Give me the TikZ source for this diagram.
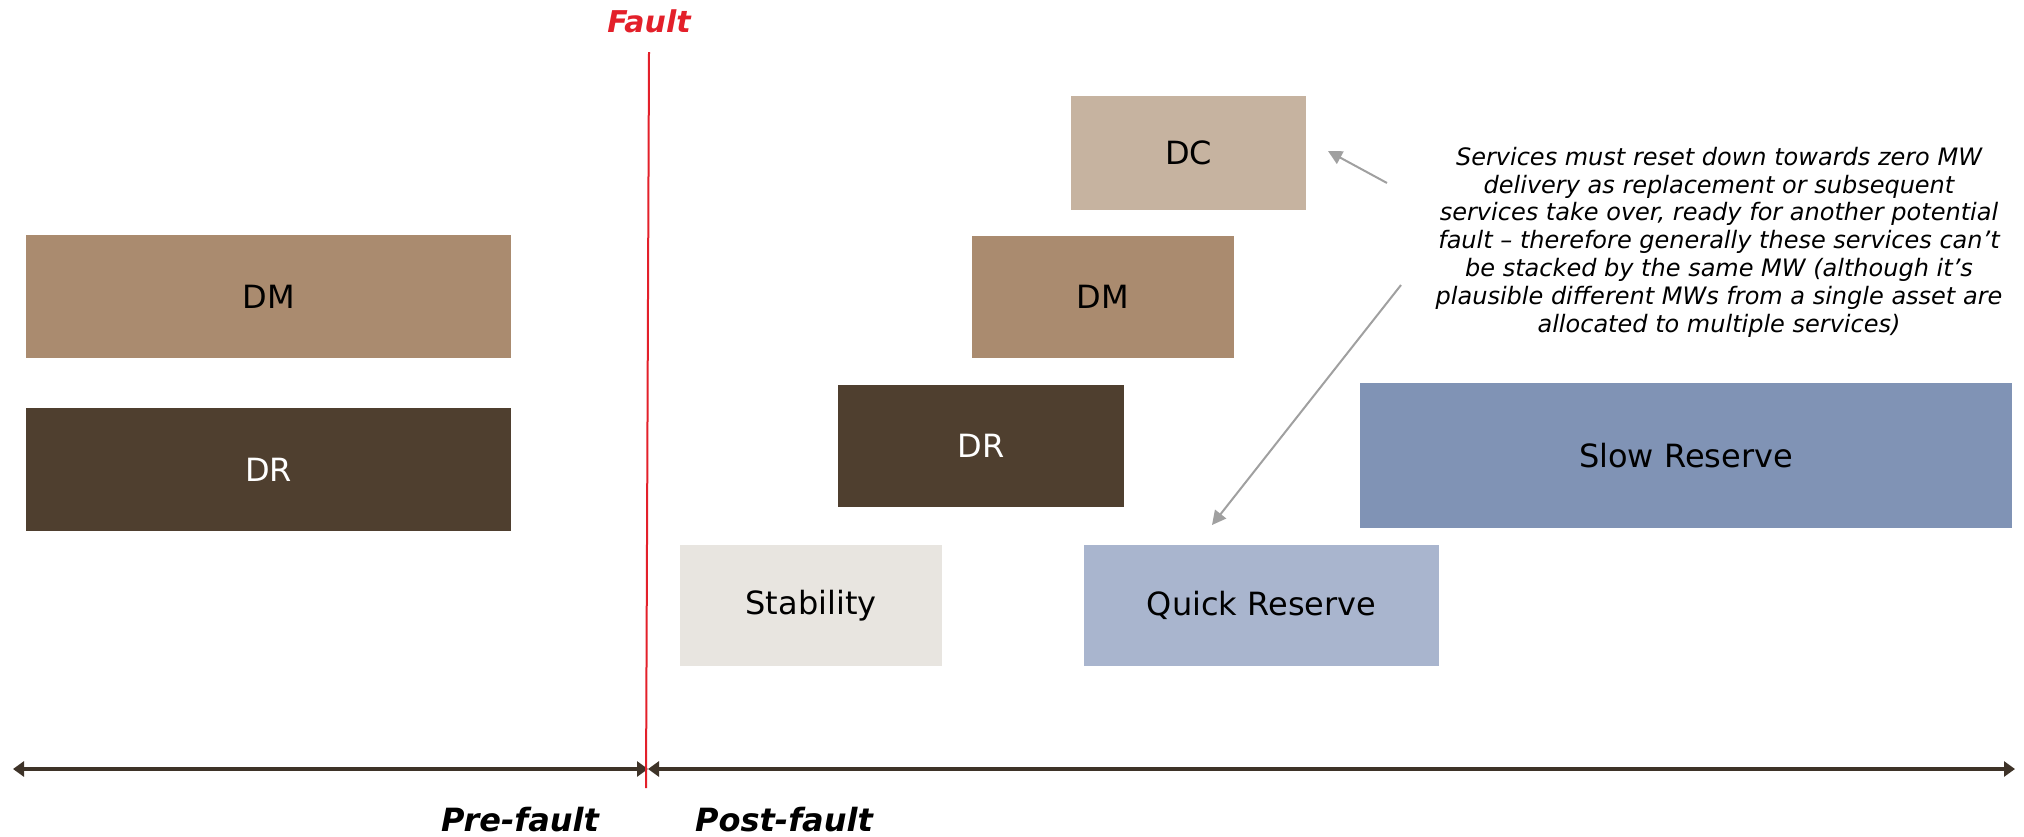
\documentclass[tikz,border=0pt]{standalone}
\usepackage{fontspec}
\setmainfont{DejaVu Sans}
\usetikzlibrary{arrows.meta}
\definecolor{dmbrown}{HTML}{AA8B6F}
\definecolor{drbrown}{HTML}{4F3F2F}
\definecolor{dctan}{HTML}{C6B3A0}
\definecolor{stabgrey}{HTML}{E8E5E0}
\definecolor{quickblue}{HTML}{A9B5CE}
\definecolor{slowblue}{HTML}{8093B5}
\definecolor{axisbrown}{HTML}{3E3328}
\definecolor{pointergrey}{HTML}{A0A0A0}
\definecolor{faultred}{HTML}{E3202A}
\tikzset{
  service/.style={inner sep=0pt, font=\fontsize{16}{19}\selectfont, text=black},
  timeline/.style={line width=2pt, draw=axisbrown,
    {Triangle[length=5.5pt,width=7.5pt]}-{Triangle[length=5.5pt,width=7.5pt]}},
  pointer/.style={draw=pointergrey, line width=1pt, -{Triangle[length=7pt,width=7pt]}},
  phase/.style={font=\fontsize{16}{19}\selectfont\bfseries\itshape}
}
\begin{document}
\begin{tikzpicture}[x=0.5pt,y=-0.5pt]
\useasboundingbox (0,0) rectangle (2024,836);
% pre-fault services
\node[service, fill=dmbrown, minimum width=242.5pt, minimum height=61.5pt] (dmpre) at (268.5,296.5) {DM};
\node[service, fill=drbrown, text=white, minimum width=242.5pt, minimum height=61.5pt] (drpre) at (268.5,469.5) {DR};
% post-fault services
\node[service, fill=dctan, minimum width=117.5pt, minimum height=57pt] (dcpost) at (1188.5,153) {DC};
\node[service, fill=dmbrown, minimum width=131pt, minimum height=61pt] (dmpost) at (1103,297) {DM};
\node[service, fill=drbrown, text=white, minimum width=143pt, minimum height=61pt] (drpost) at (981,446) {DR};
\node[service, fill=slowblue, minimum width=326pt, minimum height=72.5pt] (slow) at (1686,455.5) {Slow Reserve};
\node[service, fill=stabgrey, minimum width=131pt, minimum height=60.5pt] (stab) at (811,605.5) {Stability};
\node[service, fill=quickblue, minimum width=177.5pt, minimum height=60.5pt] (quick) at (1261.5,605.5) {Quick Reserve};
% note
\node[font=\fontsize{12}{13.9}\selectfont\itshape, align=center] (note) at (1719,242)
  {Services must reset down towards zero MW\\
   delivery as replacement or subsequent\\
   services take over, ready for another potential\\
   fault – therefore generally these services can’t\\
   be stacked by the same MW (although it’s\\
   plausible different MWs from a single asset are\\
   allocated to multiple services)};
\coordinate (dcnote) at (1387,183);
\coordinate (dctip) at (1328,151);
\coordinate (quicknote) at (1401,285);
\coordinate (quicktip) at (1212,525);
\draw[pointer] (dcnote) -- (dctip);
\draw[pointer] (quicknote) -- (quicktip);
% time axis
\coordinate (axisstart) at (13,769);
\coordinate (axisfault) at (648,769);
\coordinate (axisend) at (2015,769);
\draw[timeline] (axisstart) -- (axisfault);
\draw[timeline] (axisfault) -- (axisend);
\node[phase] (pre) at (520,820) {Pre-fault};
\node[phase] (post) at (784,820) {Post-fault};
% fault
\node[font=\fontsize{15}{18}\selectfont\bfseries\itshape, text=faultred] (fault) at (649,21) {Fault};
\coordinate (faulttop) at (649,52);
\coordinate (faultbottom) at (646,788);
\draw[faultred, line width=1pt] (faulttop) -- (faultbottom);
\end{tikzpicture}
\end{document}
